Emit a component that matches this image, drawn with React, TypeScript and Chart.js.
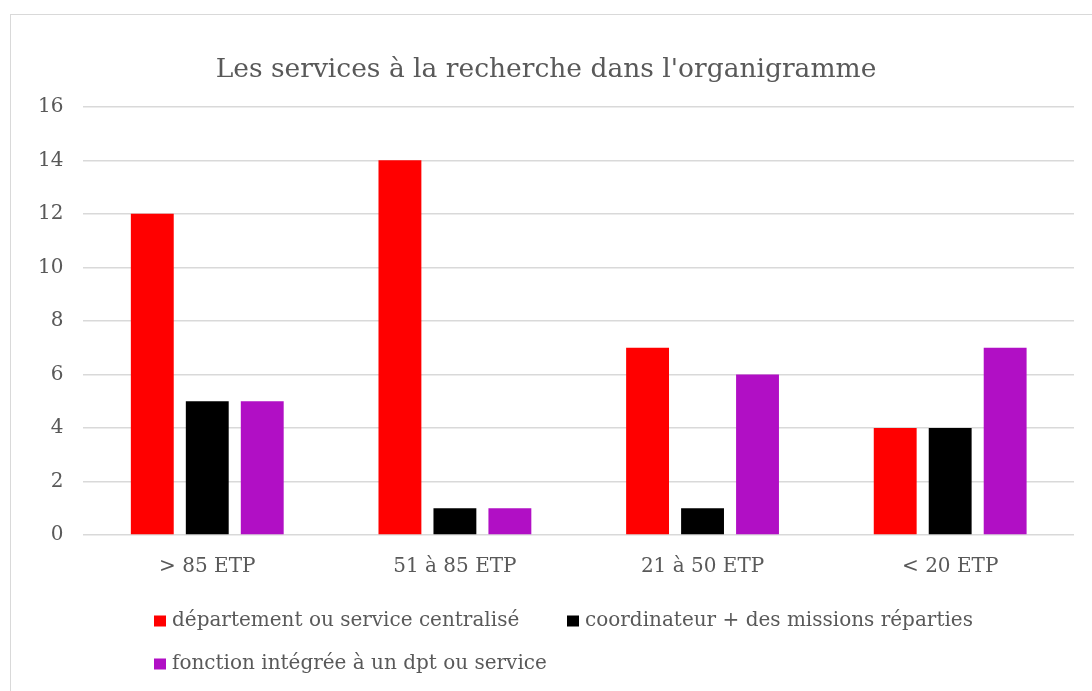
import React, { useEffect, useRef } from "react";
import { Chart, registerables } from "chart.js";
Chart.register(...registerables);

const categories = ["> 85 ETP", "51 à 85 ETP", "21 à 50 ETP", "< 20 ETP"];
const seriesNames = [
  "département ou service centralisé",
  "coordinateur + des missions réparties",
  "fonction intégrée à un dpt ou service",
];
const centralise = [12, 14, 7, 4];
const coordinateur = [5, 1, 1, 4];
const integree = [5, 1, 6, 7];
const seriesColors = ["#FF0000", "#000000", "#B10FC5"];
const yMin = 0;
const yMax = 16;
const yStep = 2;
const titleText = "Les services à la recherche dans l'organigramme";

const FONT = '"DejaVu Serif", serif';
const TEXT = "#595959";

const legendSlots = [
  { x: 154, y: 621 },
  { x: 567, y: 621 },
  { x: 154, y: 664 },
];

const gridLegend = {
  id: "gridLegend",
  afterDraw(chart: any) {
    const ctx = chart.ctx;
    ctx.save();
    ctx.font = `20px ${FONT}`;
    ctx.textBaseline = "middle";
    ctx.textAlign = "left";
    chart.data.datasets.forEach((ds: any, i: number) => {
      const s = legendSlots[i];
      ctx.fillStyle = ds.backgroundColor;
      ctx.fillRect(s.x, s.y - 5.5, 12, 11);
      ctx.fillStyle = TEXT;
      ctx.fillText(ds.label, s.x + 18, s.y);
    });
    ctx.restore();
  },
};

export default function App() {
  const ref = useRef<HTMLCanvasElement>(null);
  useEffect(() => {
    if (!ref.current) return;
    const values = [centralise, coordinateur, integree];
    const chart = new Chart(ref.current, {
      type: "bar",
      data: {
        labels: categories,
        datasets: values.map((v, i) => ({
          label: seriesNames[i],
          data: v,
          backgroundColor: seriesColors[i],
          borderWidth: 0,
          categoryPercentage: 0.666,
          barPercentage: 0.78,
        })),
      },
      options: {
        animation: false,
        responsive: false,
        layout: { padding: { left: 18, right: 18, top: 54, bottom: 92 } },
        plugins: {
          legend: { display: false },
          tooltip: { enabled: false },
          title: {
            display: true,
            text: titleText,
            color: TEXT,
            font: { family: FONT, size: 26.5, weight: "normal" },
            padding: { top: 0, bottom: 21 },
          },
        },
        scales: {
          x: {
            grid: { display: false, drawTicks: false },
            border: { display: false },
            ticks: { color: TEXT, font: { family: FONT, size: 20 }, padding: 20 },
          },
          y: {
            min: yMin,
            max: yMax,
            ticks: { stepSize: yStep, color: TEXT, font: { family: FONT, size: 20 }, padding: 20 },
            grid: { color: "#d9d9d9", lineWidth: 1.5, drawTicks: false },
            border: { display: false },
          },
        },
      },
      plugins: [gridLegend],
    });
    return () => chart.destroy();
  }, []);
  return (
    <div style={{ position: "absolute", left: 0, top: 0, width: 1092, height: 691, background: "#fff", overflow: "hidden" }}>
      <div
        style={{
          position: "absolute",
          left: 10,
          top: 14,
          width: 1200,
          height: 800,
          borderLeft: "1.5px solid #d9d9d9",
          borderTop: "1.5px solid #d9d9d9",
        }}
      />
      <canvas ref={ref} width={1092} height={691} style={{ position: "absolute", left: 0, top: 0 }} />
    </div>
  );
}
